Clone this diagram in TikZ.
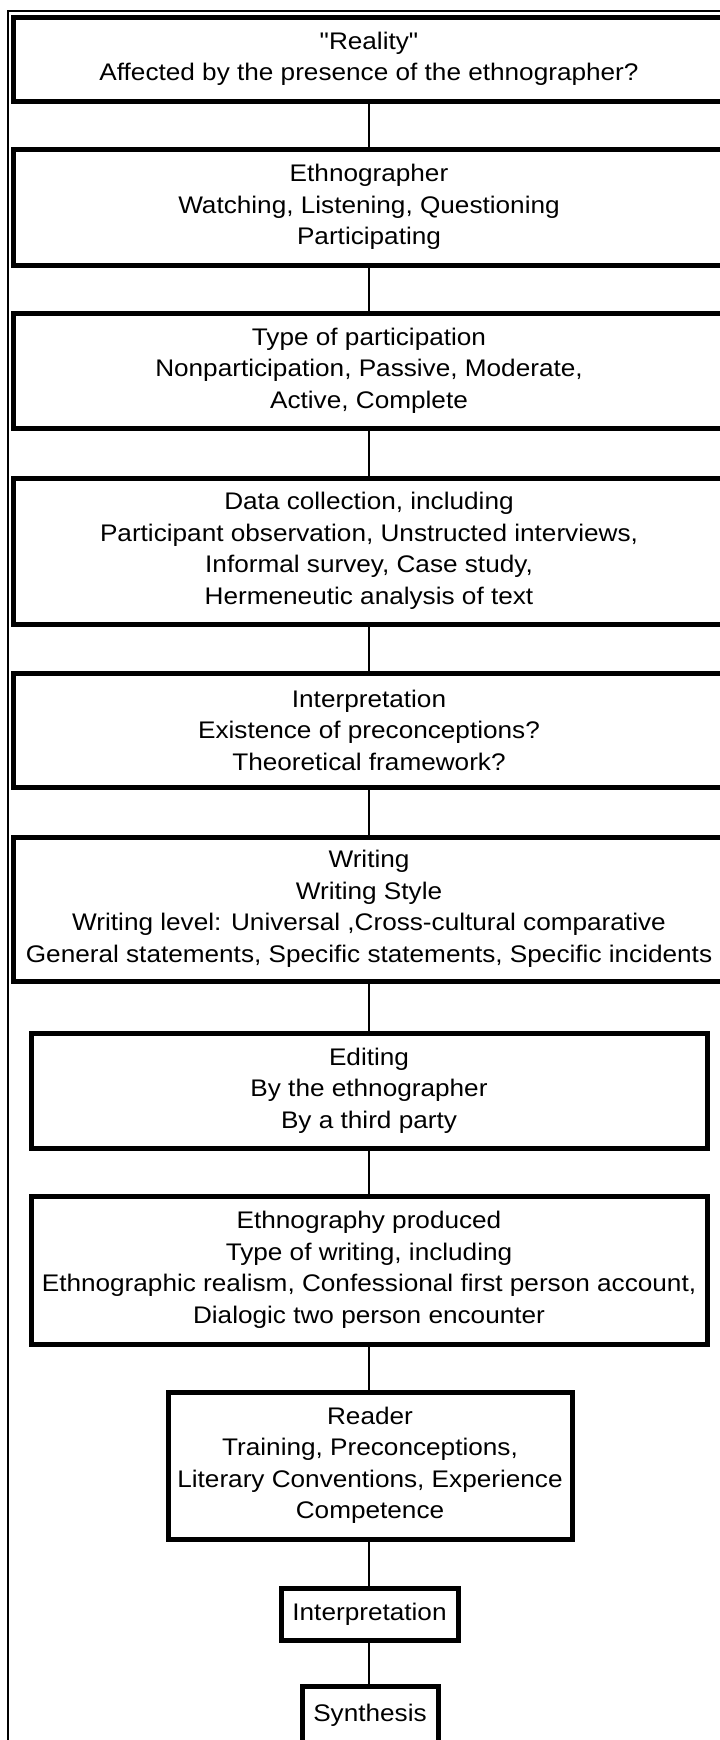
\documentclass[tikz,border=0pt]{standalone}
\usepackage{fontspec}
\setmainfont{Liberation Sans}[FakeStretch=1.09, Ligatures=TeXOff]
\begin{document}
\begin{tikzpicture}[x=1pt,y=-1pt,
  stepbox/.style={draw=black, line width=5pt, fill=white, align=center, inner sep=0pt,
    font=\fontsize{24}{31.5}\selectfont, anchor=center},
  link/.style={draw=black, line width=1.4pt},
  frame/.style={draw=black, line width=1.3pt}]
\path[use as bounding box, fill=white] (0,0) rectangle (720,1740);
\clip (0,0) rectangle (720,1740);
% outer frame
\coordinate (fbl) at (8,1745);
\coordinate (ftl) at (8,11);
\coordinate (ftr) at (725,11);
\draw[frame] (fbl) -- (ftl) -- (ftr);
% boxes
\node[stepbox, minimum width=712, minimum height=84] (b1) at (369,59)
  {"Reality"\\Affected by the presence of the ethnographer?};
\node[stepbox, minimum width=712, minimum height=116] (b2) at (369,207)
  {Ethnographer\\Watching, Listening, Questioning\\Participating};
\node[stepbox, minimum width=712, minimum height=115] (b3) at (369,370.5)
  {Type of participation\\Nonparticipation, Passive, Moderate,\\Active, Complete};
\node[stepbox, minimum width=712, minimum height=146] (b4) at (369,551)
  {Data collection, including\\Participant observation, Unstructed interviews,\\Informal survey, Case study,\\Hermeneutic analysis of text};
\node[stepbox, minimum width=712, minimum height=114] (b5) at (369,730)
  {Interpretation\\Existence of preconceptions?\\Theoretical framework?};
\node[stepbox, minimum width=712, minimum height=144] (b6) at (369,909)
  {Writing\\Writing Style\\Writing level: Universal ,Cross-cultural comparative\\General statements, Specific statements, Specific incidents};
\node[stepbox, minimum width=676, minimum height=115] (b7) at (369,1090.5)
  {Editing\\By the ethnographer\\By a third party};
\node[stepbox, minimum width=676, minimum height=148] (b8) at (369,1270)
  {Ethnography produced\\Type of writing, including\\Ethnographic realism, Confessional first person account,\\Dialogic two person encounter};
\node[stepbox, minimum width=404, minimum height=147] (b9) at (370,1465.5)
  {Reader\\Training, Preconceptions,\\Literary Conventions, Experience\\Competence};
\node[stepbox, minimum width=177, minimum height=52] (b10) at (369.5,1614)
  {Interpretation};
\node[stepbox, minimum width=136, minimum height=58] (b11) at (370,1715)
  {Synthesis};
% connectors
\draw[link] (b1.south -| 369,0) -- (b2.north -| 369,0);
\draw[link] (b2.south -| 369,0) -- (b3.north -| 369,0);
\draw[link] (b3.south -| 369,0) -- (b4.north -| 369,0);
\draw[link] (b4.south -| 369,0) -- (b5.north -| 369,0);
\draw[link] (b5.south -| 369,0) -- (b6.north -| 369,0);
\draw[link] (b6.south -| 369,0) -- (b7.north -| 369,0);
\draw[link] (b7.south -| 369,0) -- (b8.north -| 369,0);
\draw[link] (b8.south -| 369,0) -- (b9.north -| 369,0);
\draw[link] (b9.south -| 369,0) -- (b10.north -| 369,0);
\draw[link] (b10.south -| 369,0) -- (b11.north -| 369,0);
\end{tikzpicture}
\end{document}
